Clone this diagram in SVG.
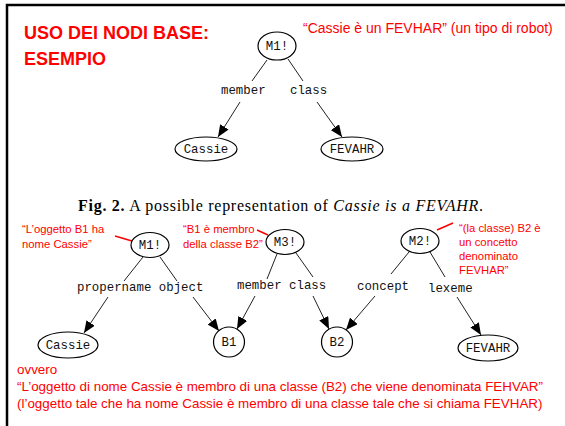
<svg xmlns="http://www.w3.org/2000/svg" width="565" height="426" viewBox="0 0 565 426">
<defs>
<marker id="arr" viewBox="0 0 12 10" refX="12" refY="5" markerWidth="12" markerHeight="10" markerUnits="userSpaceOnUse" orient="auto">
<path d="M0,0 L12,5 L0,10 Z" fill="#000"/>
</marker>
<style>
.red{fill:#ff0000;font-family:"Liberation Sans",Arial,sans-serif}
.title{font-size:18px;font-weight:bold}
.note{font-size:11.3px}
.node{fill:#fff;stroke:#000;stroke-width:1.2}
.lbl{font-family:"Liberation Mono","Courier New",monospace;font-size:12.4px;fill:#111}
.nl{font-family:"Liberation Mono","Courier New",monospace;font-size:12.4px;fill:#111;text-anchor:middle}
.edge{stroke:#222;stroke-width:1;fill:none}
.arrow{stroke:#222;stroke-width:1;fill:none;marker-end:url(#arr)}
.rl{stroke:#ff0000;stroke-width:1.5;fill:none}
.cap{font-family:"Liberation Serif","Times New Roman",serif;font-size:16px;fill:#000}
</style>
</defs>
<rect width="565" height="426" fill="#fff"/>
<path d="M7,426 V5 H565" fill="none" stroke="#000" stroke-width="2.5"/>

<text class="red title" x="24" y="39">USO DEI NODI BASE:</text>
<text class="red title" x="24" y="65">ESEMPIO</text>
<text class="red" x="303" y="33" font-size="14">“Cassie è un FEVHAR” (un tipo di robot)</text>

<!-- top graph -->
<g id="connectors-top">
<line class="edge" x1="267" y1="60" x2="252" y2="81"/>
<line class="edge" x1="288" y1="59" x2="303" y2="81"/>
<line class="arrow" x1="240" y1="102" x2="218" y2="137"/>
<line class="arrow" x1="317" y1="102" x2="342" y2="137"/>
<text class="lbl" x="221" y="94" font-size="13">member</text>
<text class="lbl" x="290" y="94" font-size="13">class</text>
</g>
<g id="top-M1">
<ellipse class="node" cx="277" cy="46" rx="19" ry="14"/>
<text class="nl" x="277" y="50">M1!</text>
</g>
<g id="top-Cassie">
<ellipse class="node" cx="206" cy="149" rx="31" ry="12"/>
<text class="nl" x="206" y="153">Cassie</text>
</g>
<g id="top-FEVAHR">
<ellipse class="node" cx="352" cy="149" rx="31" ry="12"/>
<text class="nl" x="352" y="153">FEVAHR</text>
</g>

<text class="cap" x="78" y="211" textLength="405" lengthAdjust="spacing"><tspan font-weight="bold">Fig. 2.</tspan> A possible representation of <tspan font-style="italic">Cassie is a FEVAHR</tspan>.</text>

<!-- red annotations -->
<text class="red note" x="22" y="233">“L’oggetto B1 ha</text>
<text class="red note" x="22" y="248">nome Cassie”</text>
<text class="red note" x="183" y="233">“B1 è membro</text>
<text class="red note" x="183" y="248">della classe B2”</text>
<text class="red note" x="459" y="232">“(la classe) B2 è</text>
<text class="red note" x="459" y="246">un concetto</text>
<text class="red note" x="459" y="260">denominato</text>
<text class="red note" x="459" y="274">FEVHAR”</text>
<line class="rl" x1="115" y1="236" x2="132" y2="241"/>
<line class="rl" x1="257" y1="230" x2="268" y2="235"/>
<line class="rl" x1="437" y1="230" x2="453" y2="223"/>

<!-- bottom graph -->
<g id="connectors">
<line class="edge" x1="143" y1="257" x2="124" y2="281"/>
<line class="edge" x1="160" y1="257" x2="177" y2="281"/>
<line class="edge" x1="277" y1="254" x2="267" y2="279"/>
<line class="edge" x1="296" y1="253" x2="313" y2="277"/>
<line class="edge" x1="409" y1="252" x2="391" y2="274"/>
<line class="edge" x1="430" y1="252" x2="445" y2="277"/>
<line class="arrow" x1="108" y1="297" x2="84" y2="333"/>
<line class="arrow" x1="193" y1="297" x2="219" y2="331"/>
<line class="arrow" x1="255" y1="296" x2="237" y2="329"/>
<line class="arrow" x1="313" y1="296" x2="329" y2="329"/>
<line class="arrow" x1="375" y1="296" x2="346" y2="330"/>
<line class="arrow" x1="457" y1="297" x2="481" y2="335"/>
<text class="lbl" x="77" y="291">propername object</text>
<text class="lbl" x="237" y="289">member class</text>
<text class="lbl" x="357" y="290">concept</text>
<text class="lbl" x="428" y="292">lexeme</text>
</g>
<g id="M1">
<ellipse class="node" cx="150" cy="245" rx="19" ry="12.5"/>
<text class="nl" x="150" y="249">M1!</text>
</g>
<g id="M3">
<ellipse class="node" cx="285" cy="242" rx="19" ry="12.5"/>
<text class="nl" x="285" y="246">M3!</text>
</g>
<g id="M2">
<ellipse class="node" cx="420" cy="241" rx="19" ry="12.5"/>
<text class="nl" x="420" y="245">M2!</text>
</g>
<g id="Cassie">
<ellipse class="node" cx="68" cy="345" rx="30" ry="13"/>
<text class="nl" x="68" y="349">Cassie</text>
</g>
<g id="B1">
<ellipse class="node" cx="229" cy="342" rx="15.5" ry="15"/>
<text class="nl" x="229" y="346">B1</text>
</g>
<g id="B2">
<ellipse class="node" cx="337" cy="342" rx="15.5" ry="15"/>
<text class="nl" x="337" y="346">B2</text>
</g>
<g id="FEVAHR">
<ellipse class="node" cx="488" cy="348" rx="30" ry="13"/>
<text class="nl" x="488" y="352">FEVAHR</text>
</g>

<text class="red" x="17" y="374" font-size="13.4">ovvero</text>
<text class="red" x="17" y="391" font-size="13.4">“L’oggetto di nome Cassie è membro di una classe (B2) che viene denominata FEHVAR”</text>
<text class="red" x="17" y="408" font-size="13.4">(l’oggetto tale che ha nome Cassie è membro di una classe tale che si chiama FEVHAR)</text>
</svg>
